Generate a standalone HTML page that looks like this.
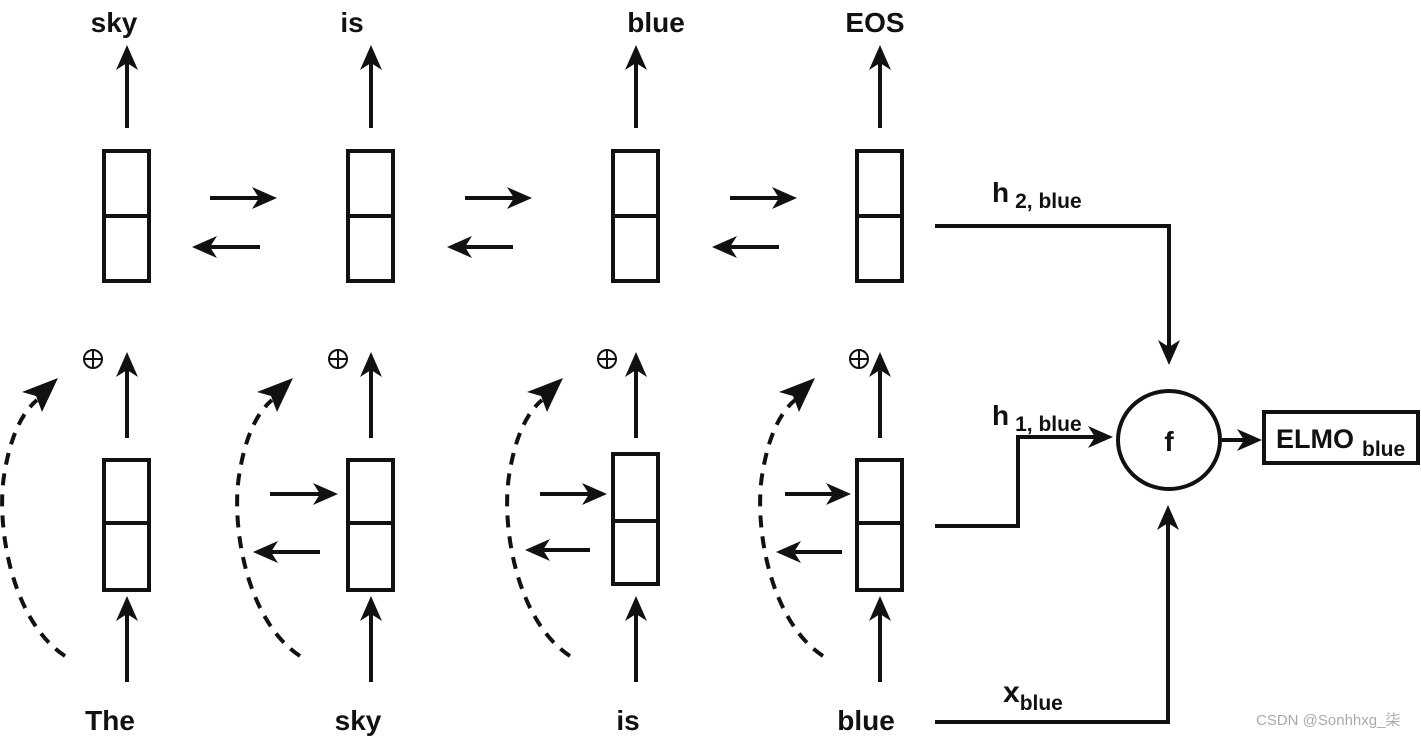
<!DOCTYPE html>
<html><head><meta charset="utf-8"><style>
html,body{margin:0;padding:0;background:#fff;}
svg{display:block;}
text{font-family:"Liberation Sans Narrow","Liberation Sans",sans-serif;font-weight:bold;fill:#111;}
</style></head><body>
<svg width="1421" height="738" viewBox="0 0 1421 738" xmlns="http://www.w3.org/2000/svg">
<g stroke="#111" stroke-width="4" fill="none">
<rect x="104" y="151" width="45" height="130"/><line x1="104" y1="216" x2="149" y2="216"/>
<rect x="348" y="151" width="45" height="130"/><line x1="348" y1="216" x2="393" y2="216"/>
<rect x="613" y="151" width="45" height="130"/><line x1="613" y1="216" x2="658" y2="216"/>
<rect x="857" y="151" width="45" height="130"/><line x1="857" y1="216" x2="902" y2="216"/>
<rect x="104" y="460" width="45" height="130"/><line x1="104" y1="523" x2="149" y2="523"/>
<rect x="348" y="460" width="45" height="130"/><line x1="348" y1="523" x2="393" y2="523"/>
<rect x="613" y="454" width="45" height="130"/><line x1="613" y1="521" x2="658" y2="521"/>
<rect x="857" y="460" width="45" height="130"/><line x1="857" y1="523" x2="902" y2="523"/>
<line x1="127" y1="128" x2="127" y2="60"/><line x1="371" y1="128" x2="371" y2="60"/>
<line x1="636" y1="128" x2="636" y2="60"/><line x1="880" y1="128" x2="880" y2="60"/>
<line x1="127" y1="438" x2="127" y2="366"/><line x1="371" y1="438" x2="371" y2="366"/>
<line x1="636" y1="438" x2="636" y2="366"/><line x1="880" y1="438" x2="880" y2="366"/>
<line x1="127" y1="682" x2="127" y2="610"/><line x1="371" y1="682" x2="371" y2="610"/>
<line x1="636" y1="682" x2="636" y2="610"/><line x1="880" y1="682" x2="880" y2="610"/>
<line x1="210" y1="198" x2="265" y2="198"/><line x1="260" y1="247" x2="205" y2="247"/>
<line x1="465" y1="198" x2="520" y2="198"/><line x1="513" y1="247" x2="460" y2="247"/>
<line x1="730" y1="198" x2="785" y2="198"/><line x1="779" y1="247" x2="725" y2="247"/>
<line x1="270" y1="494" x2="326" y2="494"/><line x1="320" y1="552" x2="266" y2="552"/>
<line x1="540" y1="494" x2="595" y2="494"/><line x1="590" y1="550" x2="538" y2="550"/>
<line x1="785" y1="494" x2="840" y2="494"/><line x1="842" y1="552" x2="789" y2="552"/>
<g stroke-dasharray="12,9">
<path d="M65,656 C10,620 -5,520 5,470 C12,430 25,410 37,400"/>
<path d="M300,656 C245,620 230,520 240,470 C247,430 260,410 272,400"/>
<path d="M570,656 C515,620 500,520 510,470 C517,430 530,410 542,400"/>
<path d="M823,656 C768,620 753,520 763,470 C770,430 783,410 795,400"/>
</g>
<polyline points="935,226 1169,226 1169,352"/>
<polyline points="935,526 1018,526 1018,437 1100,437"/>
<polyline points="935,722 1168,722 1168,518"/>
<ellipse cx="1169" cy="440" rx="51" ry="49"/>
<line x1="1222" y1="440" x2="1250" y2="440"/>
<rect x="1264" y="412" width="154" height="51"/>
<g stroke-width="2"><circle cx="93" cy="359" r="9"/><line x1="84" y1="359" x2="102" y2="359"/><line x1="93" y1="350" x2="93" y2="368"/>
<circle cx="338" cy="359" r="9"/><line x1="329" y1="359" x2="347" y2="359"/><line x1="338" y1="350" x2="338" y2="368"/>
<circle cx="607" cy="359" r="9"/><line x1="598" y1="359" x2="616" y2="359"/><line x1="607" y1="350" x2="607" y2="368"/>
<circle cx="859" cy="359" r="9"/><line x1="850" y1="359" x2="868" y2="359"/><line x1="859" y1="350" x2="859" y2="368"/></g>
</g>
<g fill="#111">
<path d="M127,45 l-11,25 l11,-7 l11,7z"/><path d="M371,45 l-11,25 l11,-7 l11,7z"/>
<path d="M636,45 l-11,25 l11,-7 l11,7z"/><path d="M880,45 l-11,25 l11,-7 l11,7z"/>
<path d="M127,352 l-11,25 l11,-7 l11,7z"/><path d="M371,352 l-11,25 l11,-7 l11,7z"/>
<path d="M636,352 l-11,25 l11,-7 l11,7z"/><path d="M880,352 l-11,25 l11,-7 l11,7z"/>
<path d="M127,596 l-11,25 l11,-7 l11,7z"/><path d="M371,596 l-11,25 l11,-7 l11,7z"/>
<path d="M636,596 l-11,25 l11,-7 l11,7z"/><path d="M880,596 l-11,25 l11,-7 l11,7z"/>
<path d="M277,198 l-25,-11 l7,11 l-7,11z"/><path d="M192,247 l25,-11 l-7,11 l7,11z"/>
<path d="M532,198 l-25,-11 l7,11 l-7,11z"/><path d="M447,247 l25,-11 l-7,11 l7,11z"/>
<path d="M797,198 l-25,-11 l7,11 l-7,11z"/><path d="M712,247 l25,-11 l-7,11 l7,11z"/>
<path d="M338,494 l-25,-11 l7,11 l-7,11z"/><path d="M253,552 l25,-11 l-7,11 l7,11z"/>
<path d="M607,494 l-25,-11 l7,11 l-7,11z"/><path d="M525,550 l25,-11 l-7,11 l7,11z"/>
<path d="M851,494 l-25,-11 l7,11 l-7,11z"/><path d="M776,552 l25,-11 l-7,11 l7,11z"/>
<path d="M1169,365 l-11,-25 l11,7 l11,-7z"/>
<path d="M1113,437 l-25,-11 l7,11 l-7,11z"/>
<path d="M1262,440 l-25,-11 l7,11 l-7,11z"/>
<path d="M1168,505 l-11,25 l11,-7 l11,7z"/>
<path d="M58,378 l-36,14 l14,4 l6,16z"/>
<path d="M293,378 l-36,14 l14,4 l6,16z"/>
<path d="M563,378 l-36,14 l14,4 l6,16z"/>
<path d="M815,378 l-36,14 l14,4 l6,16z"/>
</g>
<g font-size="28" text-anchor="middle">
<text x="114" y="32">sky</text><text x="352" y="32">is</text>
<text x="656" y="32">blue</text><text x="875" y="32">EOS</text>
<text x="110" y="730">The</text><text x="358" y="730">sky</text>
<text x="628" y="730">is</text><text x="866" y="730">blue</text>
<text x="1169" y="451">f</text>
</g>
<text x="992" y="202" font-size="28">h<tspan font-size="21" dx="6" dy="6">2, blue</tspan></text>
<text x="992" y="425" font-size="28">h<tspan font-size="21" dx="6" dy="6">1, blue</tspan></text>
<text x="1003" y="702" font-size="30">x<tspan font-size="21" dy="8">blue</tspan></text>
<text x="1276" y="448" font-size="27">ELMO<tspan font-size="21" dx="8" dy="8">blue</tspan></text>
<text x="1256" y="725" font-size="15" style="font-weight:normal;fill:#aaa;font-family:'Liberation Sans','Noto Sans CJK SC',sans-serif">CSDN @Sonhhxg_柒</text>
</svg>
</body></html>
